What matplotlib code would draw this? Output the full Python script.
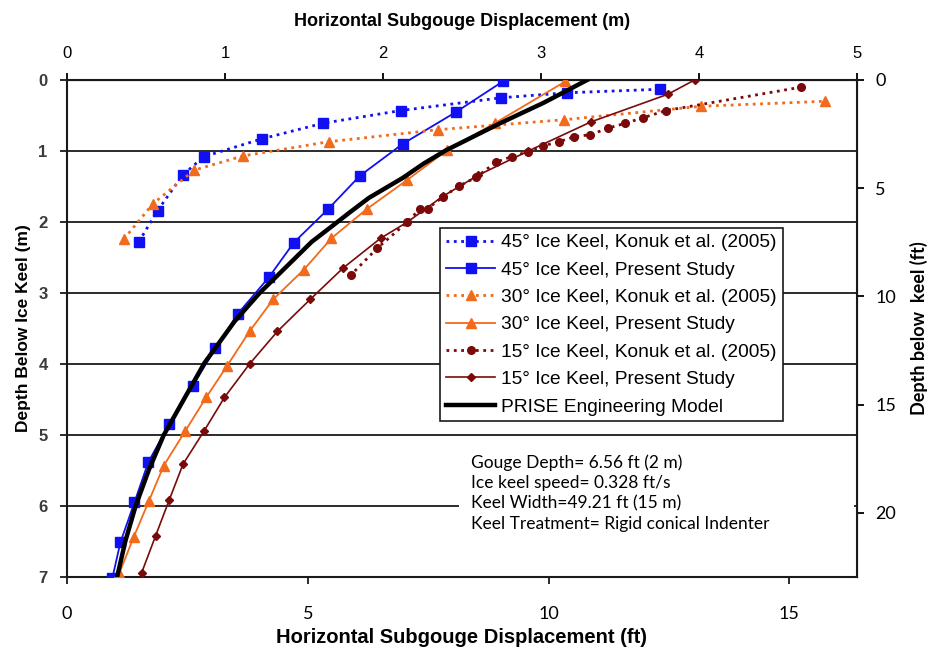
import numpy as np
import matplotlib
matplotlib.use('Agg')
import matplotlib.pyplot as plt
from matplotlib.patches import Rectangle

# ============================================================
# Datos (x en ft, profundidad en m)
# ============================================================
k45_x = [1.49, 1.88, 2.40, 2.84, 4.04, 5.31, 6.93, 9.02, 10.38, 12.32]
k45_d = [2.28, 1.84, 1.34, 1.08, 0.83, 0.61, 0.43, 0.25, 0.18, 0.13]

p45_x = [9.05, 8.08, 6.97, 6.08, 5.42, 4.71, 4.19, 3.55, 3.08, 2.61, 2.12, 1.69, 1.40, 1.11, 0.94]
p45_d = [0.02, 0.45, 0.90, 1.35, 1.82, 2.29, 2.78, 3.29, 3.78, 4.31, 4.85, 5.38, 5.95, 6.51, 7.02]

k30_x = [1.18, 1.79, 2.64, 3.65, 5.43, 7.70, 10.31, 13.17, 15.73]
k30_d = [2.24, 1.74, 1.27, 1.07, 0.87, 0.70, 0.56, 0.37, 0.30]

p30_x = [10.35, 8.88, 7.89, 7.06, 6.22, 5.49, 4.92, 4.28, 3.79, 3.32, 2.89, 2.45, 2.01, 1.70, 1.39, 1.09]
p30_d = [0.02, 0.61, 0.99, 1.41, 1.82, 2.23, 2.67, 3.09, 3.54, 4.03, 4.47, 4.95, 5.43, 5.93, 6.43, 6.94]

k15_x = [15.25, 12.44, 11.97, 11.59, 11.23, 10.87, 10.53, 10.21, 9.88, 9.57,
         9.23, 8.90, 8.50, 8.15, 7.80, 7.49, 7.32, 7.07, 6.44, 5.89]
k15_d = [0.10, 0.43, 0.53, 0.61, 0.68, 0.77, 0.80, 0.87, 0.93, 1.01,
         1.08, 1.16, 1.37, 1.49, 1.65, 1.81, 1.82, 2.00, 2.37, 2.75]

p15_x = [13.03, 12.48, 10.88, 9.58, 8.54, 7.80, 7.07, 6.51, 5.73, 5.05,
         4.37, 3.79, 3.27, 2.84, 2.41, 2.12, 1.84, 1.55]
p15_d = [0.00, 0.20, 0.59, 1.00, 1.34, 1.64, 2.00, 2.23, 2.65, 3.09,
         3.54, 4.00, 4.47, 4.95, 5.41, 5.92, 6.42, 6.94]

prise_x = [10.80, 9.90, 8.99, 7.87, 7.40, 6.97, 6.62, 6.27, 5.88, 5.52, 5.08, 4.60, 4.00,
           3.48, 2.85, 2.40, 2.01, 1.70, 1.42, 1.21, 1.04]
prise_d = [0.00, 0.32, 0.61, 0.99, 1.18, 1.38, 1.52, 1.66, 1.86, 2.05, 2.28, 2.60, 3.00,
           3.40, 3.99, 4.53, 5.00, 5.49, 6.01, 6.50, 7.00]

info_lines = ['Gouge Depth= 6.56 ft (2 m)',
              'Ice keel speed= 0.328 ft/s',
              'Keel Width=49.21 ft (15 m)',
              'Keel Treatment= Rigid conical Indenter']

FT_PER_M = 3.28084

BLUE = '#1010F0'
ORANGE = '#F26A1B'
DRED = '#7A0A0A'

ARIAL = ['Liberation Sans', 'DejaVu Sans']
CALIBRI = ['Lato', 'DejaVu Sans']

# ============================================================
# Figura
# ============================================================
fig = plt.figure(figsize=(9.51, 6.56), dpi=100)
ax = fig.add_axes([67/951, 1 - 577/656, 790/951, 497/656])

ax.plot(k45_x, k45_d, color=BLUE, linestyle=':', linewidth=2, marker='s',
        markersize=7, label='45° Ice Keel, Konuk et al. (2005)', zorder=4)
ax.plot(p45_x, p45_d, color=BLUE, linestyle='-', linewidth=1.3, marker='s',
        markersize=7, label='45° Ice Keel, Present Study', zorder=4)
ax.plot(k30_x, k30_d, color=ORANGE, linestyle=':', linewidth=2, marker='^',
        markersize=7, label='30° Ice Keel, Konuk et al. (2005)', zorder=4)
ax.plot(p30_x, p30_d, color=ORANGE, linestyle='-', linewidth=1.3, marker='^',
        markersize=7, label='30° Ice Keel, Present Study', zorder=4)
ax.plot(k15_x, k15_d, color=DRED, linestyle=':', linewidth=2, marker='o',
        markersize=5.5, label='15° Ice Keel, Konuk et al. (2005)', zorder=4)
ax.plot(p15_x, p15_d, color=DRED, linestyle='-', linewidth=1.2, marker='D',
        markersize=4, label='15° Ice Keel, Present Study', zorder=4)
ax.plot(prise_x, prise_d, color='black', linewidth=3.2,
        solid_joinstyle='round', label='PRISE Engineering Model', zorder=5)

ax.set_xlim(0, 5 * FT_PER_M)
ax.set_ylim(7, 0)
ax.set_yticks(range(0, 8))
ax.set_xticks([0, 5, 10, 15])
for yv in range(1, 7):
    ax.axhline(yv, color='#1a1a1a', linewidth=1.3, zorder=1)

for sp in ax.spines.values():
    sp.set_linewidth(1.5)
    sp.set_color('#1a1a1a')

ax.tick_params(axis='both', direction='out', length=5, width=1.3, color='#1a1a1a')
for lab in ax.get_yticklabels():
    lab.set_fontfamily(ARIAL)
    lab.set_fontweight('bold')
    lab.set_fontsize(12)
    lab.set_color('#3a3a3a')
for lab in ax.get_xticklabels():
    lab.set_fontfamily(CALIBRI)
    lab.set_fontsize(13)
ax.tick_params(axis='x', pad=16)
ax.tick_params(axis='y', pad=9)

ax.set_xlabel('Horizontal Subgouge Displacement (ft)', family=ARIAL,
              fontweight='bold', fontsize=14.5, labelpad=4)
ax.set_ylabel('Depth Below Ice Keel (m)', family=ARIAL,
              fontweight='bold', fontsize=12.5, labelpad=5)

# Eje superior (m)
top = ax.secondary_xaxis('top', functions=(lambda x: x / FT_PER_M, lambda x: x * FT_PER_M))
top.set_xticks([0, 1, 2, 3, 4, 5])
top.tick_params(direction='out', length=5, width=1.3, pad=9)
for lab in top.get_xticklabels():
    lab.set_fontfamily(ARIAL)
    lab.set_fontsize(12)
top.set_xlabel('Horizontal Subgouge Displacement (m)', family=ARIAL,
               fontweight='bold', fontsize=13, labelpad=14)

# Eje derecho (ft)
right = ax.secondary_yaxis('right', functions=(lambda d: d * FT_PER_M, lambda d: d / FT_PER_M))
right.set_yticks([0, 5, 10, 15, 20])
right.tick_params(direction='out', length=5, width=1.3, pad=8)
for lab in right.get_yticklabels():
    lab.set_fontfamily(CALIBRI)
    lab.set_fontsize(13)
right.set_ylabel('Depth below  keel (ft)', family=CALIBRI,
                 fontweight='bold', fontsize=13, labelpad=10)

# Leyenda
leg = ax.legend(loc='upper left', bbox_to_anchor=(0.472, 0.702),
                prop={'family': ARIAL, 'size': 13.8}, frameon=True,
                fancybox=False, edgecolor='#1a1a1a', framealpha=1,
                handlelength=2.6, handletextpad=0.3, labelspacing=0.52,
                borderpad=0.3, borderaxespad=0)
leg.get_frame().set_linewidth(1.2)
leg.set_zorder(10)

# Caja de texto con parametros
ax.add_patch(Rectangle((0.496, 0.014), 0.50, 0.25, transform=ax.transAxes,
                       facecolor='white', edgecolor='none', zorder=6))
ax.text((471 - 67) / 790, 1 - (454 - 80) / 497, '\n'.join(info_lines),
        transform=ax.transAxes, ha='left', va='top', family=CALIBRI,
        fontsize=12.5, linespacing=1.35, zorder=7)

plt.savefig('out.png', dpi=100)
